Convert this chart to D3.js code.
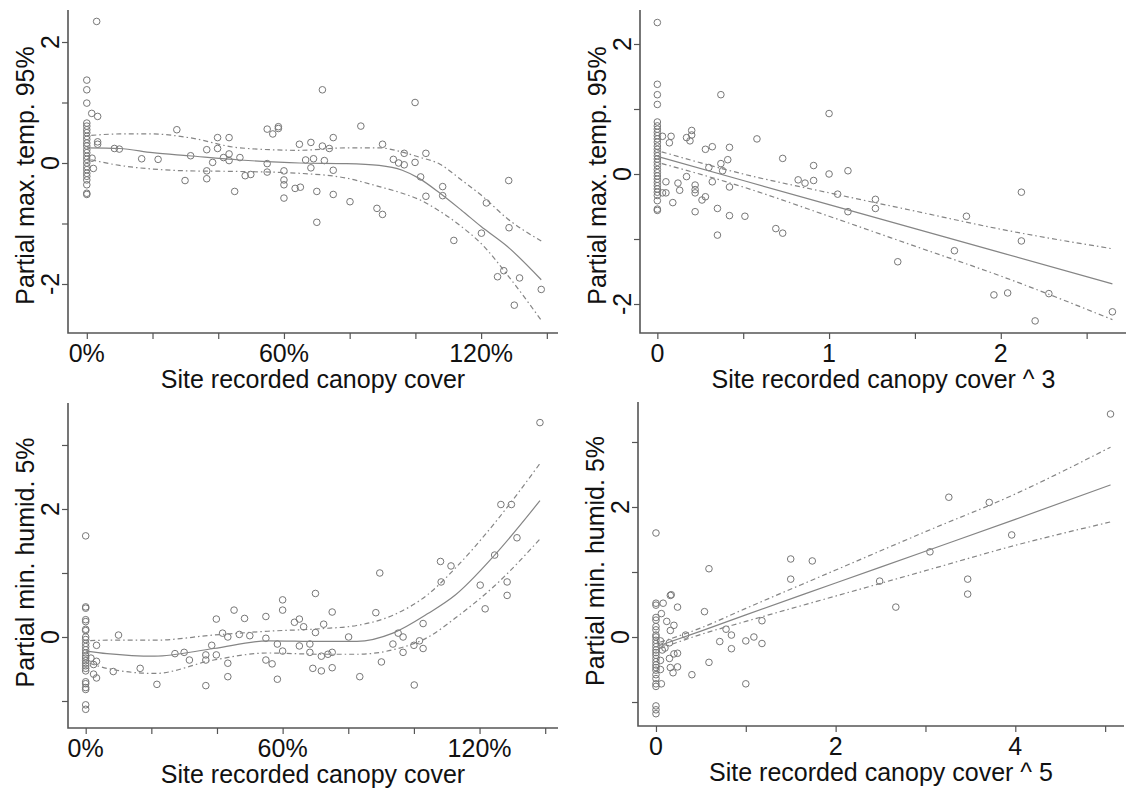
<!DOCTYPE html>
<html>
<head>
<meta charset="utf-8">
<title>Canopy cover partial plots</title>
<script src="https://d3js.org/d3.v7.min.js"></script>
<style>
    body { margin: 0; background: #fff; }
    text { font-family: "Liberation Sans", Arial, sans-serif; fill: #111; }
</style>
</head>
<body>
<script>
// ---- data ----
// panel 1: partial max temp vs canopy cover (%)
var tempCanopyPts = [
    [0,1.37],[0,1.21],[0,0.99],[0,0.66],[0,0.61],[0,0.55],[0,0.5],[0,0.44],[0,0.39],[0,0.33],[0,0.28],[0,0.22],
    [0,0.17],[0,0.11],[0,0.06],[0,0],[0,-0.06],[0,-0.11],[0,-0.17],[0,-0.22],[0,-0.28],[0,-0.36],[0,-0.5],[0,-0.52],
    [3,2.34],[1.5,0.82],[3.3,0.77],[3.3,0.35],[3.3,0.31],[1.6,0.08],[2,-0.09],
    [8.4,0.24],[9.9,0.23],[16.7,0.07],[21.7,0.06],[27.4,0.55],[29.9,-0.29],[31.6,0.12],[36.5,0.22],[36.5,-0.13],
    [36.5,-0.26],[38.3,0.01],[39.8,0.42],[39.8,0.24],[41.6,0.09],[43.3,0.42],[43.3,0.15],[43.3,0.04],[46.6,0.09],
    [45,-0.47],[48.2,-0.21],[49.9,-0.19],[54.9,0.56],[56.6,0.48],[58.3,0.6],[58.3,0.57],[54.9,-0.01],[54.9,-0.15],
    [60,-0.13],[60,-0.28],[60,-0.36],[60,-0.58],[63.4,-0.42],[65,-0.4],[64.7,0.31],[71.7,1.21],[99.9,1.0],[83.4,0.61],
    [68.2,0.34],[71.7,0.28],[75,0.42],[73.8,0.24],[90,0.31],[96.6,0.16],[103.2,0.16],[66.6,0.05],[69,0.07],[72.3,0.04],
    [68.2,-0.08],[75,-0.12],[93.3,0.06],[94.9,0.0],[96.6,-0.03],[99.9,0.01],[70,-0.47],[75,-0.52],[101.6,-0.23],
    [108.3,-0.39],[108.3,-0.54],[103.2,-0.55],[128.4,-0.29],[70,-0.98],[80.1,-0.64],[88.3,-0.75],[90,-0.85],
    [111.7,-1.28],[120.1,-1.16],[121.6,-0.66],[128.5,-1.07],[126.9,-1.78],[125,-1.88],[131.7,-1.9],[130.1,-2.35],[138.3,-2.09]
];
var tempCanopyFitX = [0, 10, 20, 31, 46.6, 64.7, 79, 89, 96, 101, 107.5, 114, 120, 128, 138.3];
var tempCanopyFit = [0.25, 0.24, 0.17, 0.12, 0.05, 0.0, -0.01, -0.04, -0.12, -0.25, -0.5, -0.78, -1.05, -1.38, -1.93];
var tempCanopyUpper = [0.45, 0.48, 0.48, 0.42, 0.25, 0.21, 0.25, 0.25, 0.18, 0.1, -0.02, -0.28, -0.53, -0.92, -1.29];
var tempCanopyLower = [0.07, -0.04, -0.1, -0.13, -0.14, -0.17, -0.25, -0.39, -0.5, -0.6, -0.8, -1.05, -1.33, -1.85, -2.6];

// panel 2: partial max temp vs canopy cover ^ 3
var tempCubePts = [
    [0,2.33],[0,1.38],[0,1.22],[0,1.07],[0,0.8],[0,0.74],[0,0.69],[0,0.64],[0,0.59],[0,0.54],[0,0.49],[0,0.43],
    [0,0.38],[0,0.33],[0,0.28],[0,0.23],[0,0.18],[0,0.13],[0,0.07],[0,0.02],[0,-0.03],[0,-0.08],[0,-0.13],[0,-0.18],
    [0,-0.23],[0,-0.28],[0,-0.33],[0,-0.41],[0,-0.54],[0,-0.56],
    [0.03,0.58],[0.08,0.58],[0.07,0.48],[0.17,0.56],[0.19,0.51],[0.2,0.67],[0.2,0.6],[0.28,0.38],[0.32,0.42],
    [0.42,0.41],[0.41,0.22],[0.37,0.16],[0.3,0.1],[0.38,0.05],[0.05,-0.12],[0.12,-0.14],[0.13,-0.25],[0.17,-0.04],
    [0.22,-0.17],[0.22,-0.24],[0.22,-0.29],[0.32,-0.12],[0.28,-0.35],[0.42,-0.2],[0.03,-0.29],[0.05,-0.29],
    [0.09,-0.44],[0.22,-0.58],[0.26,-0.4],[0.35,-0.53],[0.35,-0.94],[0.42,-0.64],[0.51,-0.65],[0.69,-0.84],
    [0.73,-0.91],[0.37,1.22],[1.0,0.93],[0.58,0.54],[0.73,0.24],[0.91,0.13],[1.0,0.0],[0.82,-0.09],[0.86,-0.14],
    [0.91,-0.1],[1.05,-0.31],[1.11,0.05],[1.11,-0.58],[1.27,-0.39],[1.27,-0.53],[1.4,-1.35],[1.73,-1.18],
    [1.8,-0.65],[1.96,-1.86],[2.04,-1.83],[2.12,-0.28],[2.12,-1.03],[2.28,-1.84],[2.2,-2.26],[2.65,-2.12]
];
var tempCubeFitX = [0, 0.5, 1.0, 1.5, 2.0, 2.65];
var tempCubeFit = [0.27, -0.1, -0.47, -0.84, -1.21, -1.69];
var tempCubeUpper = [0.36, 0.0, -0.29, -0.57, -0.85, -1.15];
var tempCubeLower = [0.18, -0.2, -0.65, -1.11, -1.57, -2.24];

// panel 3: partial min humidity vs canopy cover (%)
var humidCanopyPts = [
    [0,1.58],[0,0.47],[0,0.45],[0,0.27],[0,0.24],[0,0.12],[0,0.1],[0,0.0],[0,-0.04],[0,-0.1],[0,-0.15],[0,-0.2],
    [0,-0.25],[0,-0.3],[0,-0.33],[0,-0.37],[0,-0.41],[0,-0.45],[0,-0.49],[0,-0.53],[0,-0.7],[0,-0.73],[0,-0.79],
    [0,-0.82],[0,-1.06],[0,-1.13],
    [1.6,-0.33],[2.4,-0.43],[3.3,-0.38],[3.3,-0.13],[2.4,-0.58],[3.3,-0.64],
    [8.4,-0.54],[10,0.03],[16.6,-0.49],[21.7,-0.74],[27.2,-0.26],[30,-0.24],[31.6,-0.36],[36.6,-0.28],[36.6,-0.36],
    [36.6,-0.76],[38.4,-0.13],[39.8,0.28],[39.8,-0.28],[41.7,0.06],[43.3,0.0],[43.3,-0.41],[43.3,-0.62],[45.2,0.42],
    [46.8,0.04],[48.4,0.29],[50,0.02],[54.9,0.32],[54.9,-0.02],[54.9,-0.36],[56.8,-0.42],[58.4,-0.66],[58.4,-0.11],
    [60,0.58],[60,0.42],[60,-0.22],[63.6,0.23],[65.1,0.28],[65.1,-0.14],[66.4,0.16],[68.3,-0.11],[68.3,-0.24],
    [69.2,-0.49],[70,0.68],[70,0.07],[71.8,-0.53],[71.8,-0.3],[72.5,0.2],[73.8,-0.27],[75.1,-0.24],[75.1,0.39],
    [75.1,-0.48],[80.1,0.0],[83.5,-0.62],[88.4,0.38],[89.6,1.0],[90.1,-0.39],[93.6,-0.11],[95.2,0.06],[96.7,0.0],
    [96.7,-0.24],[100.1,-0.75],[100,-0.13],[101.7,-0.06],[102.8,0.21],[102.8,-0.18],[108.3,0.86],[108.1,1.18],
    [111.3,1.11],[120.2,0.81],[121.7,0.44],[128.4,0.86],[128.4,0.65],[124.6,1.28],[126.5,2.07],[129.7,2.07],
    [131.4,1.55],[138.4,3.35]
];
var humidCanopyFitX = [0, 6.5, 21, 39, 55.5, 71.7, 82.6, 93.6, 104.4, 112.7, 124.6, 138.4];
var humidCanopyFit = [-0.22, -0.26, -0.3, -0.18, -0.06, -0.07, -0.07, 0.06, 0.37, 0.66, 1.28, 2.13];
var humidCanopyUpper = [-0.06, -0.05, -0.05, 0.03, 0.09, 0.13, 0.18, 0.34, 0.67, 1.08, 1.78, 2.71];
var humidCanopyLower = [-0.39, -0.49, -0.57, -0.36, -0.25, -0.27, -0.27, -0.2, 0.0, 0.3, 0.8, 1.53];

// panel 4: partial min humidity vs canopy cover ^ 5
var humidFifthPts = [
    [0,1.6],[0,0.52],[0,0.49],[0,0.3],[0,0.26],[0,0.16],[0,0.11],[0,0.03],[0,0],[0,-0.05],[0,-0.1],[0,-0.15],
    [0,-0.2],[0,-0.24],[0,-0.28],[0,-0.33],[0,-0.38],[0,-0.43],[0,-0.47],[0,-0.51],[0,-0.58],[0,-0.64],[0,-0.72],
    [0,-0.76],[0,-1.06],[0,-1.12],[0,-1.18],
    [0.08,0.52],[0.16,0.64],[0.24,0.46],[0.06,0.36],[0.12,0.24],[0.2,0.18],[0.16,0.1],[0.05,-0.06],[0.15,-0.09],
    [0.1,-0.17],[0.07,-0.2],[0.2,-0.26],[0.24,-0.25],[0.15,-0.33],[0.24,-0.46],[0.16,-0.47],[0.19,-0.55],
    [0.06,-0.72],[0.05,-0.36],[0.05,-0.5],
    [0.33,0.03],[0.4,-0.58],[0.54,0.39],[0.59,-0.39],[0.71,-0.07],[0.78,0.12],[0.84,0.03],[0.84,-0.18],[1.0,-0.06],
    [1.0,-0.72],[1.09,0.0],[1.18,0.25],[1.18,-0.1],[0.17,0.65],[0.59,1.05],[1.5,1.2],[1.74,1.17],[1.5,0.89],
    [2.49,0.86],[2.67,0.46],[3.05,1.31],[3.26,2.15],[3.47,0.89],[3.47,0.66],[3.71,2.07],[3.96,1.57],[5.06,3.43]
];
var humidFifthFitX = [0, 0.5, 1, 2, 3, 4, 5.06];
var humidFifthFit = [-0.15, 0.09, 0.34, 0.83, 1.32, 1.81, 2.34];
var humidFifthUpper = [-0.1, 0.14, 0.44, 1.03, 1.62, 2.2, 2.92];
var humidFifthLower = [-0.2, 0.04, 0.24, 0.63, 1.02, 1.41, 1.77];

// ticks and labels
var pctTicks = [0, 20, 40, 60, 80, 100, 120, 140];
var pctLabels = [0, 60, 120];
var cubeTicks = [0, 0.5, 1, 1.5, 2, 2.5];
var cubeLabels = [0, 1, 2];
var fifthTicks = [0, 1, 2, 3, 4, 5];
var fifthLabels = [0, 2, 4];
var tempTicks = [-2, -1, 0, 1, 2];
var tempLabels = [-2, 0, 2];
var humidTicks = [-1, 0, 1, 2, 3];
var humidLabels = [0, 2];

var width = 1126,
    height = 791;

var svg = d3.select("body").append("svg")
    .attr("width", width)
    .attr("height", height);

var panels = [
    { pts: tempCanopyPts, fx: tempCanopyFitX, fit: tempCanopyFit, up: tempCanopyUpper, lo: tempCanopyLower,
      box: [68, 10, 558, 333], xDom: [-5.72, 143.4], yDom: [-2.81, 2.529], yTitleShift: 4,
      xTicks: pctTicks, xLabels: pctLabels, pct: true, yTicks: tempTicks, yLabels: tempLabels,
      xTitle: "Site recorded canopy cover", yTitle: "Partial max. temp. 95%" },
    { pts: tempCubePts, fx: tempCubeFitX, fit: tempCubeFit, up: tempCubeUpper, lo: tempCubeLower,
      box: [640, 10, 1127, 333], xDom: [-0.101, 2.735], yDom: [-2.446, 2.523], yTitleShift: 4,
      xTicks: cubeTicks, xLabels: cubeLabels, pct: false, yTicks: tempTicks, yLabels: tempLabels,
      xTitle: "Site recorded canopy cover ^ 3", yTitle: "Partial max. temp. 95%" },
    { pts: humidCanopyPts, fx: humidCanopyFitX, fit: humidCanopyFit, up: humidCanopyUpper, lo: humidCanopyLower,
      box: [68, 403, 558, 728], xDom: [-5.39, 143.9], yDom: [-1.422, 3.656], yTitleShift: -3,
      xTicks: pctTicks, xLabels: pctLabels, pct: true, yTicks: humidTicks, yLabels: humidLabels,
      xTitle: "Site recorded canopy cover", yTitle: "Partial min. humid. 5%" },
    { pts: humidFifthPts, fx: humidFifthFitX, fit: humidFifthFit, up: humidFifthUpper, lo: humidFifthLower,
      box: [638, 402, 1124, 726], xDom: [-0.2, 5.21], yDom: [-1.369, 3.615], yTitleShift: -3,
      xTicks: fifthTicks, xLabels: fifthLabels, pct: false, yTicks: humidTicks, yLabels: humidLabels,
      xTitle: "Site recorded canopy cover ^ 5", yTitle: "Partial min. humid. 5%" }
];

var axisColor = "#555",
    markColor = "#777",
    lineColor = "#858585";

panels.forEach(function (p) {
    var x = d3.scaleLinear().domain(p.xDom).range([p.box[0], p.box[2]]);
    var y = d3.scaleLinear().domain(p.yDom).range([p.box[3], p.box[1]]);
    var g = svg.append("g");

    // L-shaped box
    g.append("path")
        .attr("d", "M" + p.box[0] + "," + p.box[1] + "V" + p.box[3] + "H" + p.box[2])
        .attr("fill", "none")
        .attr("stroke", axisColor)
        .attr("stroke-width", 1.6);

    // x axis ticks
    var xAxis = d3.axisBottom(x).tickValues(p.xTicks).tickSize(6).tickSizeOuter(0).tickFormat("");
    var xg = g.append("g").attr("transform", "translate(0," + p.box[3] + ")").call(xAxis);
    xg.select(".domain").remove();
    xg.selectAll("line").attr("stroke", axisColor).attr("stroke-width", 1.2);

    g.selectAll(".xlab").data(p.xLabels).enter().append("text")
        .attr("x", function (d) { return x(d); })
        .attr("y", p.box[3] + 29)
        .attr("text-anchor", "middle")
        .attr("font-size", 25)
        .text(function (d) { return p.pct ? d + "%" : d; });

    g.append("text")
        .attr("x", (p.box[0] + p.box[2]) / 2)
        .attr("y", p.box[3] + 55)
        .attr("text-anchor", "middle")
        .attr("font-size", 25)
        .text(p.xTitle);

    // y axis ticks
    var yAxis = d3.axisLeft(y).tickValues(p.yTicks).tickSize(6).tickSizeOuter(0).tickFormat("");
    var yg = g.append("g").attr("transform", "translate(" + p.box[0] + ",0)").call(yAxis);
    yg.select(".domain").remove();
    yg.selectAll("line").attr("stroke", axisColor).attr("stroke-width", 1.2);

    g.selectAll(".ylab").data(p.yLabels).enter().append("text")
        .attr("transform", function (d) {
            return "translate(" + (p.box[0] - 9) + "," + y(d) + ") rotate(-90)";
        })
        .attr("text-anchor", "middle")
        .attr("font-size", 25)
        .text(function (d) { return d; });

    g.append("text")
        .attr("transform", "translate(" + (p.box[0] - 34) + "," + ((p.box[1] + p.box[3]) / 2 + p.yTitleShift) + ") rotate(-90)")
        .attr("text-anchor", "middle")
        .attr("font-size", 25)
        .text(p.yTitle);

    // points
    g.selectAll("circle").data(p.pts).enter().append("circle")
        .attr("cx", function (d) { return x(d[0]); })
        .attr("cy", function (d) { return y(d[1]); })
        .attr("r", 3.3)
        .attr("fill", "none")
        .attr("stroke", markColor)
        .attr("stroke-width", 1);

    // fitted line and bands
    var line = d3.line()
        .x(function (d) { return x(d[0]); })
        .y(function (d) { return y(d[1]); })
        .curve(d3.curveMonotoneX);

    [[p.up, "1.5,3,5,3"], [p.lo, "1.5,3,5,3"], [p.fit, null]].forEach(function (s) {
        var pts = p.fx.map(function (v, i) { return [v, s[0][i]]; });
        g.append("path")
            .attr("d", line(pts))
            .attr("fill", "none")
            .attr("stroke", lineColor)
            .attr("stroke-width", 1.2)
            .attr("stroke-dasharray", s[1]);
    });
});
</script>
</body>
</html>
